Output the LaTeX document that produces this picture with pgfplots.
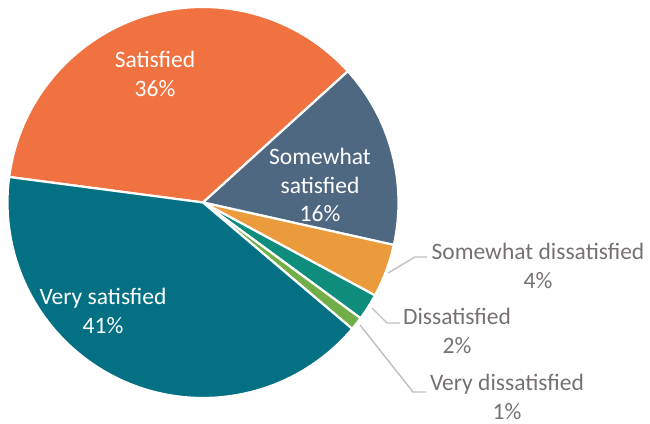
\documentclass[border=0pt]{standalone}
\usepackage{pgfplots}
\pgfplotsset{compat=1.18}
\usepackage{fontspec}
\setmainfont{Carlito}
\definecolor{csat}{RGB}{240,114,65}
\definecolor{csomsat}{RGB}{79,104,130}
\definecolor{csomdis}{RGB}{235,155,59}
\definecolor{cdis}{RGB}{14,140,124}
\definecolor{cvdis}{RGB}{114,174,71}
\definecolor{cvsat}{RGB}{3,113,131}
\definecolor{lbl}{RGB}{118,113,113}
\definecolor{lead}{RGB}{191,191,191}
\begin{document}
\begin{tikzpicture}
\begin{axis}[scale only axis, width=650bp, height=423bp,
  xmin=0, xmax=650, ymin=0, ymax=423, hide axis, clip=false]
\pgfplotsextra{
  \pgfmathsetmacro\a{172.5}
  \xdef\a{\a}
  % values (percent): Satisfied, Somewhat satisfied, Somewhat dissatisfied, Dissatisfied, Very dissatisfied, Very satisfied
  \foreach \v/\c in {36.2/csat, 15.2/csomsat, 4.4/csomdis, 2.2/cdis, 1.1/cvdis, 40.9/cvsat} {
    \pgfmathsetmacro\b{\a - 3.6*\v}
    \fill[overlay, \c, draw=white, line width=2.2bp, line join=round]
      (axis cs:203,220.5) -- ++(\a:195.5bp) arc[start angle=\a, end angle=\b, radius=195.5bp] -- cycle;
    \xdef\a{\b}
  }
  \path (axis cs:0,0) rectangle (axis cs:650,423);
}
\addplot[lead, line width=1.4bp] coordinates {(388,150) (415,166) (427,166)};
\addplot[lead, line width=1.4bp] coordinates {(372,115) (387,100) (400,100)};
\addplot[lead, line width=1.4bp] coordinates {(360,98) (413,31) (426,31)};
\begin{scope}[every node/.style={align=center, inner sep=0pt, font=\fontsize{23.6pt}{28.5pt}\selectfont}]
\node[white] at (axis cs:155,349) {Satisfied\\36\%};
\node[white] at (axis cs:320,238) {Somewhat\\satisfied\\16\%};
\node[white] at (axis cs:103,112) {Very satisfied\\41\%};
\node[lbl] at (axis cs:538,157) {Somewhat dissatisfied\\4\%};
\node[lbl] at (axis cs:457,92) {Dissatisfied\\2\%};
\node[lbl] at (axis cs:507,26) {Very dissatisfied\\1\%};
\end{scope}
\end{axis}
\end{tikzpicture}
\end{document}
